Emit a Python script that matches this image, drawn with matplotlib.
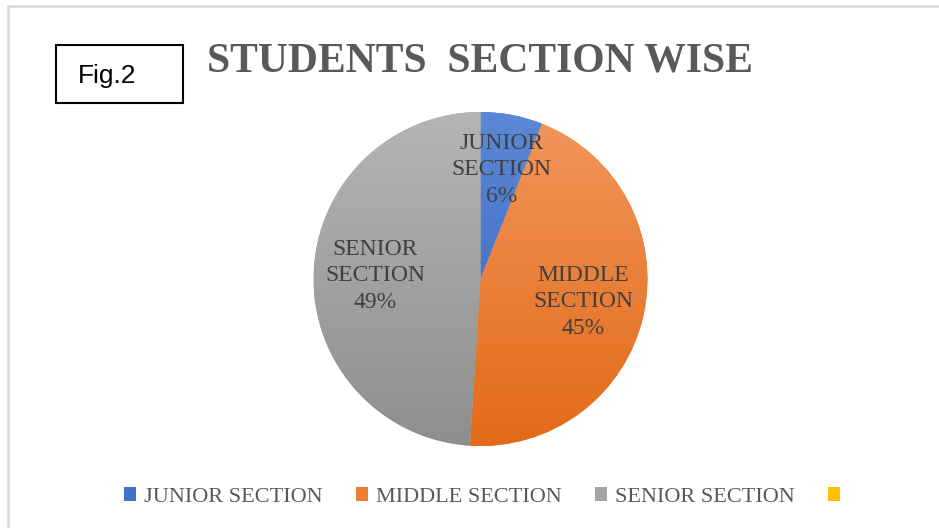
import numpy as np
import matplotlib
matplotlib.use("Agg")
import matplotlib.pyplot as plt
from matplotlib.colors import LinearSegmentedColormap
from matplotlib.patches import Rectangle
from matplotlib.lines import Line2D

# Students per section (%); the fourth series is an empty placeholder
sections = ["JUNIOR SECTION", "MIDDLE SECTION", "SENIOR SECTION", ""]
shares = [6, 45, 49, 0]
pie_labels = ["JUNIOR\nSECTION", "MIDDLE\nSECTION", "SENIOR\nSECTION", ""]

# Office-style fills: (top, bottom) of the vertical gradient
fills = [("#5B88D6", "#3562BD"),
         ("#F2965C", "#E26A17"),
         ("#B5B5B5", "#8E8E8E"),
         ("#FFD21F", "#F5B800")]
base_colors = ["#4472C4", "#ED7D31", "#A5A5A5", "#FFC000"]

W, H = 939, 528
fig = plt.figure(figsize=(W / 100, H / 100), dpi=100)
fig.patch.set_facecolor("white")

# chart-area border (top and left edges only)
fig.add_artist(Line2D([8 / W, 1], [1 - 6 / H, 1 - 6 / H], color="#D9D9D9", lw=1.8))
fig.add_artist(Line2D([8 / W, 8 / W], [1 - 6 / H, 0], color="#D9D9D9", lw=1.8))

# "Fig.2" box
fig.add_artist(Rectangle((56 / W, 1 - 103 / H), 127 / W, 58 / H, transform=fig.transFigure,
                         facecolor="white", edgecolor="black", lw=1.5))
fig.text(78 / W, 1 - 76 / H, "Fig.2", fontsize=19, family="Liberation Sans",
         ha="left", va="center", color="black")

# title
fig.text(480 / W, 1 - 72 / H, "STUDENTS  SECTION WISE", fontsize=30, family="Liberation Serif",
         fontweight="bold", ha="center", va="baseline", color="#595959")

# pie
cx, cy, r = 480.5, 279, 167
ax = fig.add_axes([(cx - r) / W, 1 - (cy + r) / H, 2 * r / W, 2 * r / H])
wedges, _ = ax.pie(shares, colors=base_colors, startangle=90, counterclock=False,
                   wedgeprops=dict(linewidth=0))
ax.set_xlim(-1, 1)
ax.set_ylim(-1, 1)
ax.set_aspect("equal")
ax.axis("off")

grad = np.linspace(0, 1, 256).reshape(-1, 1)
for w, (top, bot) in zip(wedges, fills):
    cmap = LinearSegmentedColormap.from_list("g", [top, bot])
    im = ax.imshow(grad, cmap=cmap, extent=(-1, 1, -1, 1), origin="upper",
                   aspect="auto", zorder=w.get_zorder() + 0.1)
    im.set_clip_path(w)

# slice labels
label_dist = [0.665, 0.63, 0.632, 0]
for w, lab, val, d in zip(wedges, pie_labels, shares, label_dist):
    if val == 0:
        continue
    ang = np.deg2rad((w.theta1 + w.theta2) / 2)
    ax.text(d * np.cos(ang), d * np.sin(ang), f"{lab}\n{val}%", ha="center", va="center",
            fontsize=17, family="Liberation Serif", color="#404040",
            linespacing=1.35, zorder=5)

# legend
leg = fig.legend(wedges, sections, loc="center", bbox_to_anchor=(486 / W, 1 - 497 / H), ncol=4,
                 frameon=False, handlelength=0.55, handleheight=0.55, handletextpad=0.35,
                 columnspacing=1.5, prop=dict(family="Liberation Serif", size=16))
for t in leg.get_texts():
    t.set_color("#595959")

fig.savefig("out.png", dpi=100, facecolor="white")
